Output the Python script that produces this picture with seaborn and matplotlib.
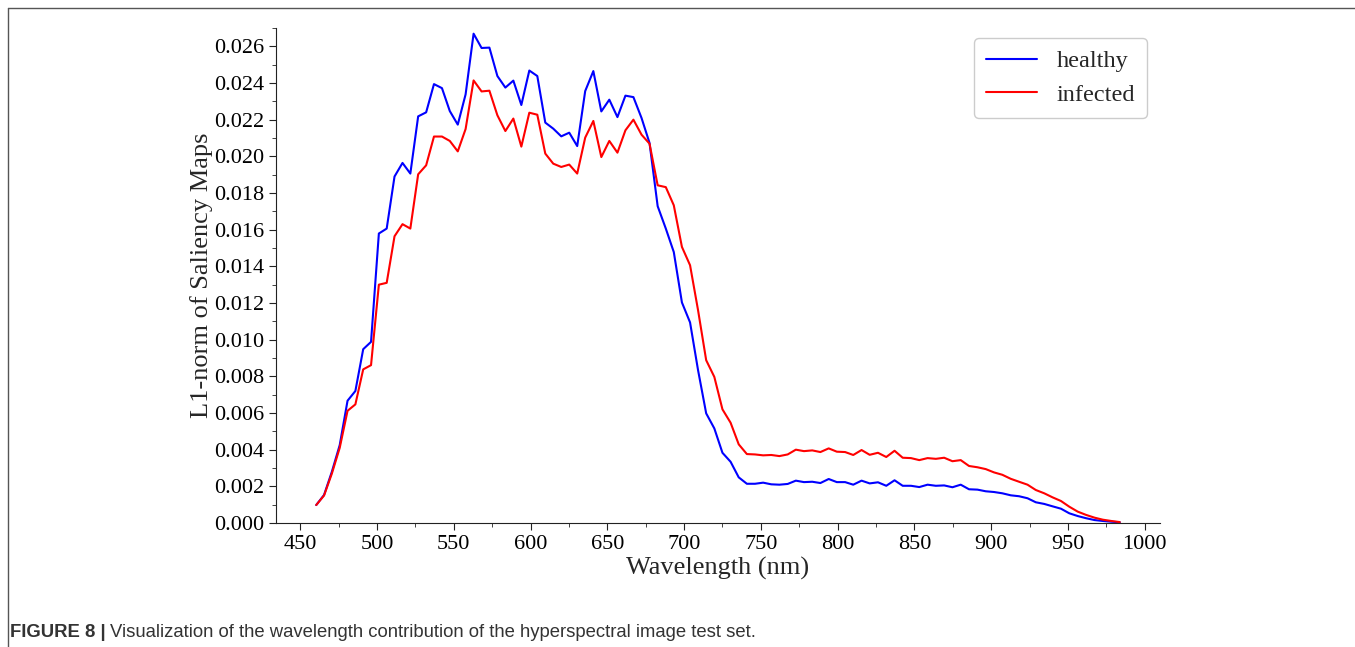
import numpy as np
import pandas as pd
import matplotlib
matplotlib.use("Agg")
import matplotlib.pyplot as plt
import seaborn as sns
from matplotlib.ticker import MultipleLocator, FormatStrFormatter
from matplotlib.lines import Line2D

wavelength = [
    460.4, 465.5, 470.6, 475.7, 480.8, 485.9, 491.0, 496.1, 501.2, 506.3,
    511.4, 516.6, 521.7, 526.8, 532.0, 537.1, 542.3, 547.4, 552.6, 557.7,
    562.9, 568.1, 573.2, 578.4, 583.6, 588.8, 594.0, 599.2, 604.4, 609.6,
    614.8, 620.0, 625.2, 630.4, 635.6, 640.9, 646.1, 651.3, 656.6, 661.8,
    667.0, 672.3, 677.5, 682.8, 688.1, 693.3, 698.6, 703.9, 709.1, 714.4,
    719.7, 725.0, 730.3, 735.6, 740.9, 746.2, 751.5, 756.8, 762.1, 767.5,
    772.8, 778.1, 783.5, 788.8, 794.2, 799.5, 804.9, 810.2, 815.6, 820.9,
    826.3, 831.7, 837.1, 842.4, 847.8, 853.2, 858.6, 864.0, 869.4, 874.8,
    880.2, 885.6, 891.1, 896.5, 901.9, 907.3, 912.8, 918.2, 923.7, 929.1,
    934.6, 940.0, 945.5, 950.9, 956.4, 961.9, 967.4, 972.8, 978.3, 983.8,
]

healthy = [
    0.00098, 0.00153, 0.00280, 0.00425, 0.00667, 0.00720, 0.00948, 0.00988, 0.01579, 0.01606,
    0.01890, 0.01964, 0.01906, 0.02218, 0.02240, 0.02394, 0.02372, 0.02247, 0.02173, 0.02338,
    0.02669, 0.02591, 0.02593, 0.02438, 0.02375, 0.02413, 0.02280, 0.02468, 0.02438, 0.02184,
    0.02151, 0.02109, 0.02129, 0.02056, 0.02356, 0.02465, 0.02245, 0.02309, 0.02214, 0.02331,
    0.02323, 0.02209, 0.02073, 0.01728, 0.01606, 0.01478, 0.01203, 0.01094, 0.00834, 0.00598,
    0.00516, 0.00383, 0.00334, 0.00249, 0.00214, 0.00214, 0.00220, 0.00211, 0.00209, 0.00213,
    0.00231, 0.00223, 0.00225, 0.00218, 0.00240, 0.00223, 0.00223, 0.00209, 0.00231, 0.00216,
    0.00222, 0.00203, 0.00233, 0.00203, 0.00203, 0.00196, 0.00209, 0.00203, 0.00205, 0.00195,
    0.00209, 0.00184, 0.00182, 0.00173, 0.00169, 0.00162, 0.00151, 0.00146, 0.00135, 0.00113,
    0.00104, 0.00091, 0.00078, 0.00053, 0.00038, 0.00026, 0.00016, 0.00011, 0.00007, 0.00004,
]

infected = [
    0.00098, 0.00150, 0.00270, 0.00410, 0.00612, 0.00647, 0.00838, 0.00861, 0.01300, 0.01310,
    0.01564, 0.01630, 0.01606, 0.01902, 0.01951, 0.02108, 0.02108, 0.02084, 0.02027, 0.02149,
    0.02414, 0.02354, 0.02358, 0.02224, 0.02138, 0.02206, 0.02053, 0.02238, 0.02227, 0.02015,
    0.01960, 0.01942, 0.01955, 0.01906, 0.02102, 0.02193, 0.01996, 0.02084, 0.02020, 0.02142,
    0.02200, 0.02118, 0.02069, 0.01842, 0.01832, 0.01733, 0.01506, 0.01406, 0.01161, 0.00888,
    0.00797, 0.00620, 0.00547, 0.00429, 0.00376, 0.00374, 0.00369, 0.00371, 0.00365, 0.00374,
    0.00400, 0.00392, 0.00396, 0.00387, 0.00407, 0.00389, 0.00387, 0.00371, 0.00398, 0.00372,
    0.00383, 0.00360, 0.00394, 0.00356, 0.00354, 0.00343, 0.00354, 0.00350, 0.00356, 0.00337,
    0.00343, 0.00311, 0.00304, 0.00294, 0.00276, 0.00263, 0.00241, 0.00225, 0.00209, 0.00180,
    0.00162, 0.00140, 0.00120, 0.00089, 0.00062, 0.00044, 0.00029, 0.00018, 0.00011, 0.00005,
]

series_names = ["healthy", "infected"]
series_colors = ["#0000ff", "#ff0000"]

caption_bold = "FIGURE 8 |"
caption_text = "Visualization of the wavelength contribution of the hyperspectral image test set."

df = pd.concat([
    pd.DataFrame({"Wavelength": wavelength, "Value": healthy, "Class": series_names[0]}),
    pd.DataFrame({"Wavelength": wavelength, "Value": infected, "Class": series_names[1]}),
], ignore_index=True)

sns.set_style("ticks")
plt.rcParams["font.family"] = ["Liberation Serif", "DejaVu Serif"]

fig = plt.figure(figsize=(13.55, 6.47), dpi=100)
ax = fig.add_axes([276/1355, 1 - 523/647, (1160-276)/1355, (523-28)/647])

sns.lineplot(data=df, x="Wavelength", y="Value", hue="Class",
             palette=dict(zip(series_names, series_colors)), linewidth=1.5,
             ax=ax, legend=False)

ax.set_ylim(0, 0.027)
ax.set_xlim(434.2, 1010.0)
ax.yaxis.set_major_locator(MultipleLocator(0.002))
ax.yaxis.set_minor_locator(MultipleLocator(0.001))
ax.yaxis.set_major_formatter(FormatStrFormatter("%.3f"))
ax.xaxis.set_major_locator(MultipleLocator(50))
ax.xaxis.set_minor_locator(MultipleLocator(25))
ax.tick_params(axis="both", which="major", labelsize=16, length=5, width=0.8, colors="#222222", labelcolor="black")
ax.tick_params(axis="both", which="minor", length=3, width=0.6, colors="#222222")
for s in ["top", "right"]:
    ax.spines[s].set_visible(False)
for s in ["left", "bottom"]:
    ax.spines[s].set_color("#222222")
    ax.spines[s].set_linewidth(0.8)

ax.set_xlabel("Wavelength (nm)", fontsize=19, labelpad=2)
ax.set_ylabel("L1-norm of Saliency Maps", fontsize=19, labelpad=1)

handles = [Line2D([], [], color=c, lw=1.5) for c in series_colors]
leg = ax.legend(handles, series_names, loc="upper right", bbox_to_anchor=(0.9853, 0.98),
                borderaxespad=0, fontsize=17.5, frameon=True, fancybox=True, framealpha=1,
                edgecolor="#cccccc", handlelength=2.1, borderpad=0.5, labelspacing=0.48,
                handletextpad=0.8)

# figure frame (left and top edges)
fig.add_artist(Line2D([8/1355, 8/1355], [0, 1 - 8/647], transform=fig.transFigure,
                      color="#555555", lw=1.0))
fig.add_artist(Line2D([8/1355, 1], [1 - 8/647, 1 - 8/647], transform=fig.transFigure,
                      color="#555555", lw=1.0))

t1 = fig.text(10/1355, 1 - 637/647, caption_bold, fontsize=13.3, fontweight="bold",
              family=["Liberation Sans", "DejaVu Sans"], color="#333333", va="baseline")
fig.canvas.draw()
bb = t1.get_window_extent(renderer=fig.canvas.get_renderer())
fig.text((bb.x1 + 4) / 1355, 1 - 637/647, caption_text, fontsize=13.3,
         family=["Liberation Sans", "DejaVu Sans"], color="#333333", va="baseline")

fig.savefig("out.png", dpi=100)
